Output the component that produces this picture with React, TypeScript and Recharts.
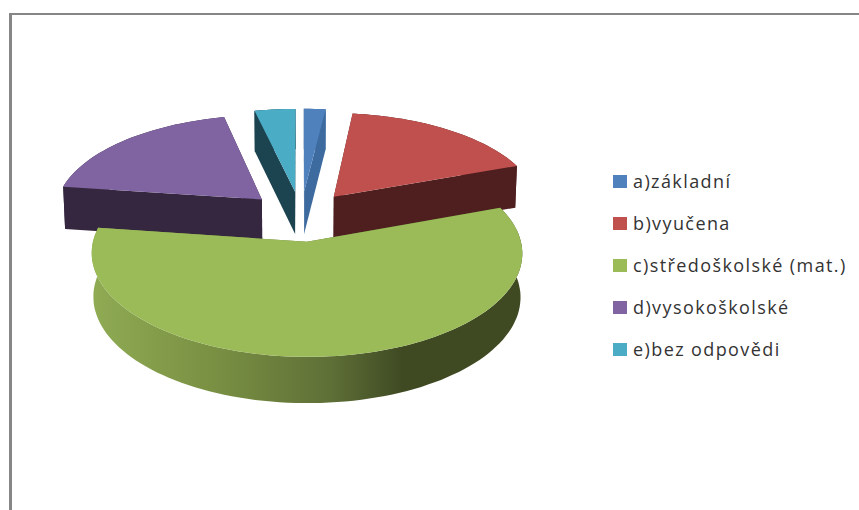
import { Legend, Pie, PieChart } from 'recharts';

const categories = ['a)základní', 'b)vyučena', 'c)středoškolské (mat.)', 'd)vysokoškolské', 'e)bez odpovědi'];
const shares = [1.9, 17.5, 57.8, 19.2, 3.6];
const topColors = ['#4F81BD', '#C0504D', '#9BBB59', '#8064A2', '#4BACC6'];
const sideColors = ['#3D6A9F', '#4E1F1E', 'url(#greenSide)', '#35273F', '#1C4450'];

const rows = categories.map((name, i) => ({
  name,
  value: shares[i],
  fill: topColors[i],
  side: sideColors[i]
}));

// the big slice sits in front of the others, so it gets its own later Pie
const frontSlice = categories[2];

const EXPLODE = 54;
const TILT = 0.465;
const PERSPECTIVE = 0.00052;
const DEPTH = 43;

type SliceProps = {
  cx: number;
  cy: number;
  outerRadius: number;
  startAngle: number;
  endAngle: number;
  fill: string;
  name: string;
  payload?: { side?: string };
  side?: string;
};

function Slice3D(props: SliceProps) {
  const { cx, cy, outerRadius, startAngle, endAngle, fill } = props;
  const side = props.side ?? props.payload?.side ?? fill;
  const rad = (d: number) => (d * Math.PI) / 180;
  const mid = (startAngle + endAngle) / 2;
  const ox = EXPLODE * Math.cos(rad(mid));
  const oy = EXPLODE * Math.sin(rad(mid));

  const project = (gx: number, gd: number, low: boolean) => {
    const s = 1 / (1 + gd * PERSPECTIVE);
    const k = low ? 0.992 : 1;
    return [cx + gx * s * k, cy - TILT * gd * s + (low ? DEPTH * Math.sqrt(s) : 0)];
  };
  const apex = (low: boolean) => project(ox, oy, low);
  const rim = (low: boolean) => {
    const n = Math.max(2, Math.ceil(Math.abs(endAngle - startAngle) / 2));
    const pts: number[][] = [];
    for (let i = 0; i <= n; i++) {
      const a = rad(startAngle + ((endAngle - startAngle) * i) / n);
      pts.push(project(ox + outerRadius * Math.cos(a), oy + outerRadius * Math.sin(a), low));
    }
    return pts;
  };
  const toPath = (pts: number[][]) =>
    `M${pts.map((p) => `${p[0].toFixed(1)},${p[1].toFixed(1)}`).join('L')}Z`;

  const upper = rim(false);
  const lower = rim(true);
  const last = upper.length - 1;

  return (
    <g>
      <path d={toPath([apex(false), upper[0], lower[0], apex(true)])} fill={side} />
      <path d={toPath([apex(false), upper[last], lower[last], apex(true)])} fill={side} />
      <path d={toPath([...upper, ...lower.toReversed()])} fill={side} />
      <path d={toPath([apex(false), ...upper])} fill={fill} />
    </g>
  );
}

function LegendList({ payload }: { payload?: { value: string; color: string }[] }) {
  // both Pies report their entries, keep each category once
  const items = (payload ?? []).filter((item, i, all) => all.findIndex((o) => o.value === item.value) === i);
  return (
    <div style={{ fontFamily: 'Open Sans', fontSize: 18, letterSpacing: 1.4, color: '#333' }}>
      {items.map((item) => (
        <div key={item.value} style={{ display: 'flex', alignItems: 'center', height: 42 }}>
          <span style={{ width: 14, height: 13, background: item.color, marginRight: 6 }} />
          <span style={{ whiteSpace: 'nowrap' }}>{item.value}</span>
        </div>
      ))}
    </div>
  );
}

export default function App() {
  return (
    <div style={{ position: 'fixed', left: 0, top: 0, width: 859, height: 510, overflow: 'hidden', background: '#fff' }}>
      <div
        style={{
          position: 'absolute',
          left: 9,
          top: 13,
          width: 859,
          height: 510,
          borderLeft: '3px solid #868686',
          borderTop: '2px solid #868686'
        }}
      />
      <div style={{ position: 'absolute', left: 0, top: 0 }}>
        <PieChart width={859} height={510} margin={{ top: 0, right: 0, bottom: 0, left: 0 }}>
          <defs>
            <linearGradient id='greenSide' gradientUnits='userSpaceOnUse' x1={92} y1={0} x2={523} y2={0}>
              <stop offset='0' stopColor='#8FAB53' />
              <stop offset='0.3' stopColor='#788E42' />
              <stop offset='0.55' stopColor='#5F7037' />
              <stop offset='0.72' stopColor='#3F4A23' />
              <stop offset='1' stopColor='#3F4A23' />
            </linearGradient>
          </defs>
          <Pie
            data={rows}
            dataKey='value'
            nameKey='name'
            cx={301}
            cy={216}
            outerRadius={208}
            startAngle={90}
            endAngle={-270}
            stroke='none'
            isAnimationActive={false}
            shape={(p: SliceProps) => (p.name === frontSlice ? <g /> : <Slice3D {...p} />)}
          />
          <Pie
            data={rows}
            dataKey='value'
            nameKey='name'
            cx={301}
            cy={216}
            outerRadius={208}
            startAngle={90}
            endAngle={-270}
            stroke='none'
            legendType='none'
            isAnimationActive={false}
            shape={(p: SliceProps) => (p.name === frontSlice ? <Slice3D {...p} /> : <g />)}
          />
          <Legend
            layout='vertical'
            align='right'
            verticalAlign='top'
            content={<LegendList />}
            wrapperStyle={{ left: 613, top: 160, width: 240, right: 'auto' }}
          />
        </PieChart>
      </div>
    </div>
  );
}
